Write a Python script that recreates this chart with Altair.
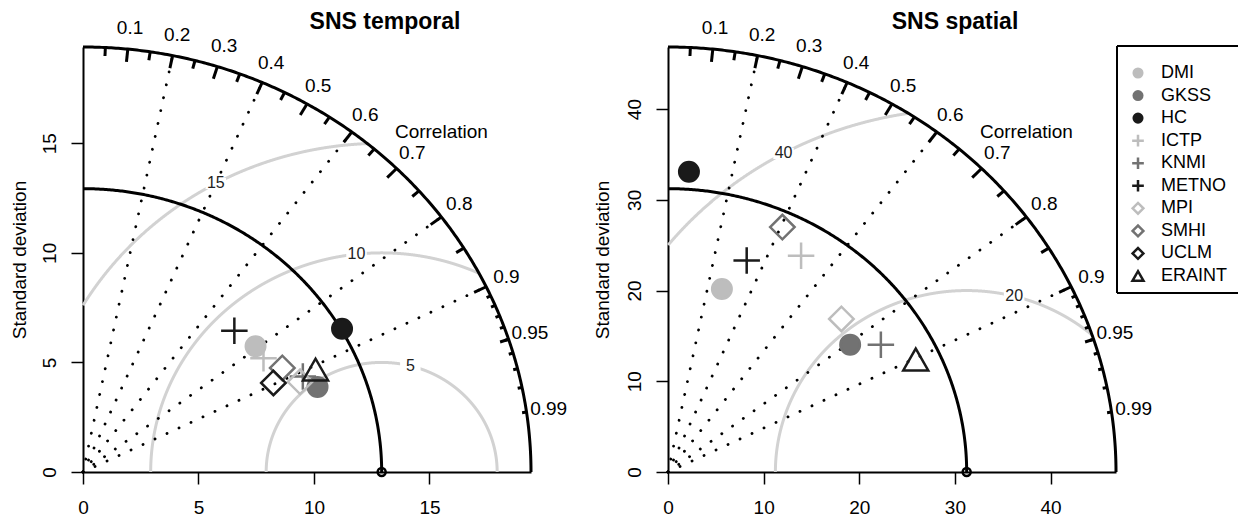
import numpy as np
import pandas as pd
import altair as alt

FONT = "Liberation Sans"

# ---------------- data ----------------
MODELS = ["DMI", "GKSS", "HC", "ICTP", "KNMI", "METNO", "MPI", "SMHI", "UCLM", "ERAINT"]
MODEL_COLORS = ["#bdbdbd", "#727272", "#1a1a1a", "#bdbdbd", "#727272", "#1a1a1a",
                "#bdbdbd", "#727272", "#1a1a1a", "#1a1a1a"]
MODEL_FILLS = ["#bdbdbd", "#727272", "#1a1a1a"] + ["transparent"] * 7

CIRCLE = "M-0.78,0A0.78,0.78,0,1,0,0.78,0A0.78,0.78,0,1,0,-0.78,0Z"
PLUS = "M-1.06,0L1.06,0M0,-1.06L0,1.06"
DIAMOND = "M-0.98,0L0,-0.98L0.98,0L0,0.98Z"
TRIANGLE = "M-1,0.87L1,0.87L0,-0.87Z"
MODEL_SHAPES = [CIRCLE] * 3 + [PLUS] * 3 + [DIAMOND] * 3 + [TRIANGLE]

# standard deviation and correlation of each model
TEMPORAL_SD = [9.42, 10.87, 12.98, 9.38, 10.47, 9.19, 10.26, 9.85, 9.19, 11.10]
TEMPORAL_CORR = [0.793, 0.934, 0.864, 0.833, 0.909, 0.713, 0.916, 0.876, 0.897, 0.907]
SPATIAL_SD = [20.95, 23.66, 33.17, 27.61, 26.31, 24.71, 24.77, 29.53, None, 28.72]
SPATIAL_CORR = [0.269, 0.805, 0.066, 0.504, 0.846, 0.333, 0.732, 0.405, None, 0.902]

TITLES = ["SNS temporal", "SNS spatial"]
REF_SD = [12.93, 31.23]
RMS_LEVELS = [[5, 10, 15], [20, 40]]
AXIS_TICKS = [[0, 5, 10, 15], [0, 10, 20, 30, 40]]

CORR_LABELS = [0.1, 0.2, 0.3, 0.4, 0.5, 0.6, 0.7, 0.8, 0.9, 0.95, 0.99]
CORR_RAYS = [0.2, 0.4, 0.6, 0.8, 0.9]
BIG_TICKS = [0.1, 0.2, 0.3, 0.4, 0.5, 0.6, 0.7, 0.8, 0.9]
MED_TICKS = [0.05, 0.15, 0.25, 0.35, 0.45, 0.55, 0.65, 0.75, 0.85, 0.95]
SMALL_TICKS = [0.91, 0.92, 0.93, 0.94, 0.95, 0.96, 0.97, 0.98, 0.99]

W, H = 448, 425
PAD_L, PAD_T, PAD_R, PAD_B, GAP = 83, 47, 123, 45, 137


def panel(idx, sd, corr, title_x, ytitle_x, show_legend):
    ref = REF_SD[idx]
    maxsd = 1.5 * ref
    ticks = AXIS_TICKS[idx]

    xs = alt.Scale(domain=[0, maxsd], nice=False, zero=False)
    ys = alt.Scale(domain=[0, maxsd], nice=False, zero=False)
    xaxis = alt.Axis(values=ticks, title=None, grid=False, domainColor="black",
                     domainWidth=2, tickColor="black", tickWidth=1.5, tickSize=12,
                     labelFontSize=19, labelFont=FONT, labelColor="black",
                     labelPadding=14, labelAngle=0, labelFlush=False, labelOverlap=False)
    yaxis = alt.Axis(values=ticks, title="Standard deviation", grid=False,
                     domainColor="black", domainWidth=2, tickColor="black",
                     tickWidth=1.5, tickSize=12, labelFontSize=19, labelFont=FONT,
                     labelColor="black", labelAngle=270, labelAlign="center",
                     labelBaseline="bottom", labelPadding=12, labelFlush=False,
                     labelOverlap=False, titleFont=FONT, titleFontSize=19,
                     titleFontWeight="normal", titleColor="black", titleX=ytitle_x,
                     titleY=H / 2, titleAngle=270, titleAlign="center",
                     titleBaseline="middle")

    def X(f):
        return alt.X(f, type="quantitative", scale=xs, axis=xaxis)

    def Y(f):
        return alt.Y(f, type="quantitative", scale=ys, axis=yaxis)

    # gray centred-RMS arcs
    rows = []
    lab_rows = []
    n = len(RMS_LEVELS[idx])
    labelpos = np.linspace(45, 70, n).astype(int)
    for gi, g in enumerate(RMS_LEVELS[idx]):
        t = np.linspace(0, np.pi, 3000)
        x = ref + g * np.cos(t)
        y = g * np.sin(t)
        keep = (x >= 0) & (x * x + y * y <= maxsd * maxsd)
        for k, (a, b) in enumerate(zip(x[keep], y[keep])):
            rows.append({"x": a, "y": b, "g": gi, "o": k})
        ang = (labelpos[gi] - 1) * 0.03
        lab_rows.append({"x": ref + g * np.cos(ang), "y": g * np.sin(ang), "t": str(g)})
    rms_df = pd.DataFrame(rows)
    rms_lab = pd.DataFrame(lab_rows)

    # outer and reference arcs
    t = np.linspace(0, np.pi / 2, 300)
    arcs_df = pd.concat([
        pd.DataFrame({"x": maxsd * np.cos(t), "y": maxsd * np.sin(t), "g": 0, "o": np.arange(len(t))}),
        pd.DataFrame({"x": ref * np.cos(t), "y": ref * np.sin(t), "g": 1, "o": np.arange(len(t))}),
    ])

    # dotted correlation rays
    rays_df = pd.DataFrame({
        "x": 0.0, "y": 0.0,
        "x2": [maxsd * c for c in CORR_RAYS],
        "y2": [maxsd * np.sqrt(1 - c * c) for c in CORR_RAYS],
    })

    # tick marks on the outer arc
    trows = []
    for lst, f in ((BIG_TICKS, 0.97), (MED_TICKS, 0.98), (SMALL_TICKS, 0.99)):
        for c in lst:
            s = np.sqrt(1 - c * c)
            trows.append({"x": maxsd * c, "y": maxsd * s, "x2": f * maxsd * c, "y2": f * maxsd * s})
    tick_df = pd.DataFrame(trows)

    corr_lab = pd.DataFrame({
        "x": [1.05 * maxsd * c for c in CORR_LABELS],
        "y": [1.05 * maxsd * np.sqrt(1 - c * c) for c in CORR_LABELS],
        "t": [str(c) for c in CORR_LABELS],
    })
    corr_title = pd.DataFrame({"x": [0.8 * maxsd], "y": [0.8 * maxsd], "t": ["Correlation"]})
    ref_pt = pd.DataFrame({"x": [ref], "y": [0.0]})

    pts = pd.DataFrame({"model": MODELS, "sd": sd, "corr": corr}).dropna()

    shape_scale = alt.Scale(domain=MODELS, range=MODEL_SHAPES)
    stroke_scale = alt.Scale(domain=MODELS, range=MODEL_COLORS)
    fill_scale = alt.Scale(domain=MODELS, range=MODEL_FILLS)

    layers = []
    layers.append(alt.Chart(rms_df).mark_line(color="#d2d2d2", strokeWidth=3).encode(
        x=X("x"), y=Y("y"), detail="g:N", order="o:Q"))
    layers.append(alt.Chart(rays_df).mark_rule(
        color="black", strokeWidth=2.8, strokeCap="round", strokeDash=[0.1, 13.1]).encode(
        x=X("x"), y=Y("y"), x2="x2", y2="y2"))
    layers.append(alt.Chart(rms_lab).mark_point(
        shape="M-1,-0.55L1,-0.55L1,0.55L-1,0.55Z", filled=True, fill="white", opacity=1,
        strokeWidth=0, size=420).encode(x=X("x"), y=Y("y")))
    layers.append(alt.Chart(rms_lab).mark_text(
        font=FONT, fontSize=16, color="#222222", baseline="middle").encode(
        x=X("x"), y=Y("y"), text="t:N"))
    layers.append(alt.Chart(arcs_df).mark_line(color="black", strokeWidth=3).encode(
        x=X("x"), y=Y("y"), detail="g:N", order="o:Q"))
    layers.append(alt.Chart(tick_df).mark_rule(color="black", strokeWidth=3).encode(
        x=X("x"), y=Y("y"), x2="x2", y2="y2"))
    layers.append(alt.Chart(ref_pt).mark_point(
        shape="circle", size=64, color="black", strokeWidth=2.5, opacity=1).encode(
        x=X("x"), y=Y("y")))
    layers.append(alt.Chart(corr_lab).mark_text(
        font=FONT, fontSize=19, color="black", baseline="middle", align="center").encode(
        x=X("x"), y=Y("y"), text="t:N"))
    layers.append(alt.Chart(corr_title).mark_text(
        font=FONT, fontSize=19, color="black", baseline="middle", align="center").encode(
        x=X("x"), y=Y("y"), text="t:N"))

    layers.append(alt.Chart(pts).transform_calculate(
        x="datum.sd * datum.corr", y="datum.sd * sqrt(1 - datum.corr * datum.corr)"
    ).mark_point(size=625, strokeWidth=2.5, opacity=1).encode(
        x=X("x"), y=Y("y"),
        shape=alt.Shape("model:N", scale=shape_scale, legend=None),
        stroke=alt.Stroke("model:N", scale=stroke_scale, legend=None),
        fill=alt.Fill("model:N", scale=fill_scale, legend=None)))

    layers.append(alt.Chart(pd.DataFrame({"t": [TITLES[idx]]})).mark_text(
        font=FONT, fontSize=23, fontWeight="bold", color="black", align="center",
        baseline="alphabetic").encode(x=alt.value(title_x), y=alt.value(-18), text="t:N"))

    # invisible corner anchors that fix the overall bounds of the figure
    if idx == 0:
        ax, ay = -PAD_L, -PAD_T
    else:
        ax, ay = W + PAD_R, H + PAD_B
    layers.append(alt.Chart(pd.DataFrame({"a": [0]})).mark_rule(
        color="white", strokeWidth=0, opacity=0).encode(
        x=alt.value(ax), x2=alt.value(ax), y=alt.value(ay), y2=alt.value(ay)))

    main = alt.layer(*layers)
    if not show_legend:
        return main.properties(width=W, height=H)

    # ---- legend box on the right, drawn with the same shape / colour scales ----
    leg_df = pd.DataFrame({"model": MODELS})
    ly = alt.Y("model:N", scale=alt.Scale(type="point", domain=MODELS, range=[26, 229],
                                          padding=0), axis=None)
    leg_sym = alt.Chart(leg_df).mark_point(size=121, strokeWidth=2.5, opacity=1).encode(
        x=alt.value(470), y=ly,
        shape=alt.Shape("model:N", scale=shape_scale, legend=None),
        stroke=alt.Stroke("model:N", scale=stroke_scale, legend=None),
        fill=alt.Fill("model:N", scale=fill_scale, legend=None))
    leg_txt = alt.Chart(leg_df).mark_text(
        font=FONT, fontSize=18, color="black", align="left", baseline="middle").encode(
        x=alt.value(493), y=ly, text="model:N")
    frame_df = pd.DataFrame({"side": ["left", "top", "bottom"]})
    frame = alt.Chart(frame_df).mark_rule(color="black", strokeWidth=2).encode(
        x=alt.value(449), x2=alt.value(570), y=alt.value(-1), y2=alt.value(-1))
    frame_l = alt.Chart(pd.DataFrame({"a": [0]})).mark_rule(color="black", strokeWidth=2).encode(
        x=alt.value(449), x2=alt.value(449), y=alt.value(-1), y2=alt.value(246))
    frame_t = alt.Chart(pd.DataFrame({"a": [0]})).mark_rule(color="black", strokeWidth=2).encode(
        x=alt.value(449), x2=alt.value(570), y=alt.value(-1), y2=alt.value(-1))
    frame_b = alt.Chart(pd.DataFrame({"a": [0]})).mark_rule(color="black", strokeWidth=2).encode(
        x=alt.value(449), x2=alt.value(570), y=alt.value(246), y2=alt.value(246))
    legend = alt.layer(frame_l, frame_t, frame_b, leg_sym, leg_txt)

    return alt.layer(main, legend).resolve_scale(y="independent").properties(width=W, height=H)


left = panel(0, TEMPORAL_SD, TEMPORAL_CORR, 302, -64, False)
right = panel(1, SPATIAL_SD, SPATIAL_CORR, 287, -66, True)

chart = alt.hconcat(left, right, spacing=GAP, bounds="flush").properties(
    padding=0,
).configure_view(strokeWidth=0)

chart.save("out.html", embed_options={"renderer": "svg", "actions": False})
